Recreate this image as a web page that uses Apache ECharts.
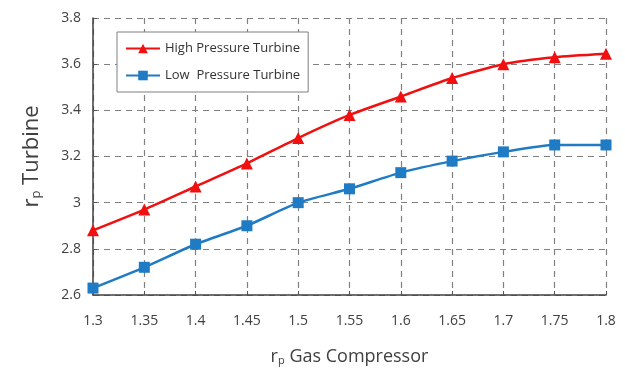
<!DOCTYPE html>
<html>
<head>
<meta charset="utf-8">
<script src="https://cdn.jsdelivr.net/npm/echarts@6/dist/echarts.min.js"></script>
<style>html,body{margin:0;padding:0;background:#fff}#c{width:625px;height:371px}</style>
</head>
<body>
<div id="c"></div>
<script>
const categories = ['1.3','1.35','1.4','1.45','1.5','1.55','1.6','1.65','1.7','1.75','1.8'];
const highPressure = [2.88, 2.97, 3.07, 3.17, 3.28, 3.38, 3.46, 3.54, 3.60, 3.63, 3.645];
const lowPressure = [2.63, 2.72, 2.82, 2.90, 3.00, 3.06, 3.13, 3.18, 3.22, 3.25, 3.25];
const yTicks = {min: 2.6, max: 3.8, interval: 0.2};
const seriesNames = ['High Pressure Turbine', 'Low  Pressure Turbine'];

const font = '"Open Sans", "Noto Sans", sans-serif';
const chart = echarts.init(document.getElementById('c'));
chart.setOption({
  animation: false,
  textStyle: {fontFamily: font},
  grid: {left: 93, right: 19, top: 18, bottom: 76, containLabel: false},
  legend: {
    left: 117, top: 32, width: 206, height: 60,
    orient: 'vertical',
    itemGap: 14,
    padding: [10, 8, 10, 8],
    borderColor: '#7f7f7f', borderWidth: 1, backgroundColor: '#fff',
    itemWidth: 34, itemHeight: 12,
    textStyle: {fontFamily: font, fontSize: 13, color: '#333'},
    data: seriesNames
  },
  xAxis: {
    type: 'category', data: categories, boundaryGap: false,
    name: '{n|r}{s|p}{n| Gas Compressor}', nameLocation: 'middle', nameGap: 52,
    nameTextStyle: {fontSize: 18, color: '#404040', rich: {
      n: {fontFamily: font, fontSize: 18, color: '#404040'},
      s: {fontFamily: font, fontSize: 11, color: '#404040', verticalAlign: 'bottom', padding: [8, 0, 0, 0]}
    }},
    axisLine: {show: true, lineStyle: {color: '#404040', width: 1.5}},
    axisTick: {show: true, inside: true, length: 4, lineStyle: {color: '#555'}},
    axisLabel: {fontSize: 14, color: '#404040', margin: 19},
    splitLine: {show: true, lineStyle: {type: [6, 5], color: '#808080', width: 1.2}}
  },
  yAxis: {
    type: 'value', min: yTicks.min, max: yTicks.max, interval: yTicks.interval,
    name: '{n|r}{s|p}{n| Turbine}', nameLocation: 'middle', nameGap: 50,
    nameTextStyle: {fontSize: 22, color: '#404040', rich: {
      n: {fontFamily: font, fontSize: 22, color: '#404040'},
      s: {fontFamily: font, fontSize: 13, color: '#404040', verticalAlign: 'bottom', padding: [10, 0, 0, 0]}
    }},
    axisLine: {show: true, lineStyle: {color: '#404040', width: 1.5}},
    axisTick: {show: true, inside: true, length: 4, lineStyle: {color: '#555'}},
    axisLabel: {fontSize: 14, color: '#404040', margin: 12},
    splitLine: {show: true, lineStyle: {type: [6, 5], color: '#808080', width: 1.2}}
  },
  series: [
    {name: seriesNames[0], type: 'line', data: highPressure, smooth: 0.2,
     symbol: 'triangle', symbolSize: 12,
     lineStyle: {color: '#f01010', width: 2.5}, itemStyle: {color: '#f01010'}},
    {name: seriesNames[1], type: 'line', data: lowPressure, smooth: 0.2,
     symbol: 'rect', symbolSize: 11,
     lineStyle: {color: '#1f7bc4', width: 2.5}, itemStyle: {color: '#1f7bc4'}}
  ]
});
</script>
</body>
</html>
